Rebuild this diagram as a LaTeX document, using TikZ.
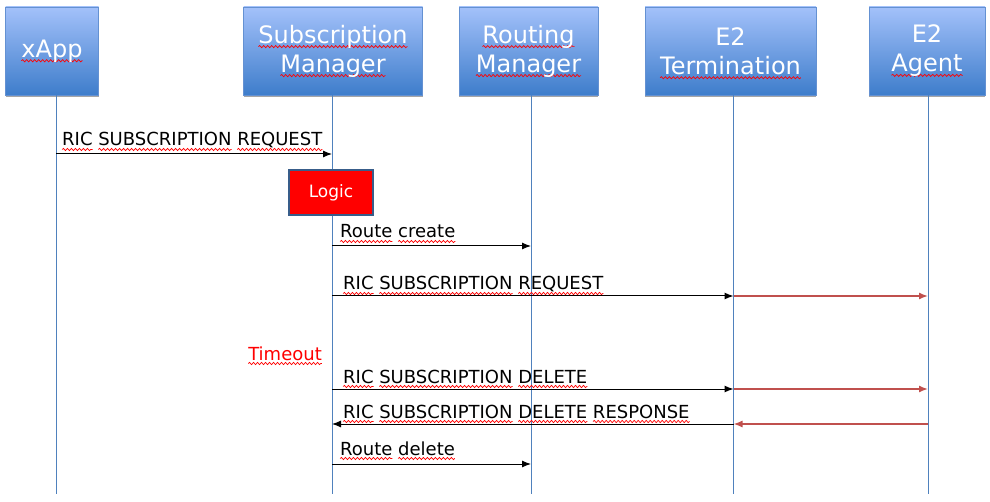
\documentclass[tikz,border=0pt]{standalone}
\usepackage{fontspec}
\setmainfont{DejaVu Sans}
\usetikzlibrary{arrows.meta,shadows,decorations.pathmorphing}
\definecolor{boxtop}{RGB}{163,193,250}
\definecolor{boxbot}{RGB}{62,125,203}
\definecolor{boxline}{RGB}{100,145,210}
\definecolor{lifeblue}{RGB}{79,129,189}
\definecolor{msgred}{RGB}{192,80,77}
\definecolor{logicline}{RGB}{56,93,138}
\newcommand\sq[1]{\setbox0\hbox{#1}\rlap{\tikz[overlay]\draw[red, line width=0.7pt,
  decorate, decoration={snake, amplitude=1.1pt, segment length=4pt}]
  (0pt,-3.5pt) -- (\wd0,-3.5pt);}\box0\relax}
\tikzset{
  actor/.style={draw=boxline, top color=boxtop, bottom color=boxbot, text=white,
    minimum width=#1, minimum height=88pt, align=center, inner sep=0pt,
    font=\fontsize{24}{29}\selectfont,
    drop shadow={shadow xshift=0pt, shadow yshift=-2.5pt, fill=black!35, opacity=1}},
  lifeline/.style={draw=lifeblue, line width=1pt},
  msg/.style={-{Latex[length=9pt,width=7pt]}, line width=1pt},
  redmsg/.style={-{Latex[length=9pt,width=7pt]}, draw=msgred, line width=1.4pt},
  lbl/.style={anchor=base west, inner sep=0pt, font=\fontsize{18}{21}\selectfont},
  logic/.style={draw=logicline, line width=2pt, fill=red, text=white,
    minimum width=84pt, minimum height=45pt, font=\fontsize{17}{20}\selectfont}
}
\begin{document}
\begin{tikzpicture}[x=1pt, y=-1pt]
\useasboundingbox (0,0) rectangle (990,502);
% participants
\node[actor=93pt] (xapp) at (52,51) {\raisebox{-2pt}{\sq{xApp}}};
\node[actor=179pt] (subm) at (333,51) {\sq{Subscription}\\\sq{Manager}};
\node[actor=139pt] (rtm) at (528.5,51) {\sq{Routing}\\\sq{Manager}};
\node[actor=171pt] (e2t) at (730.5,51) {E2\\\sq{Termination}};
\node[actor=116pt] (e2a) at (927,51) {E2\\\sq{Agent}};
\foreach \a/\dx in {xapp/4,subm/-1,rtm/2.5,e2t/3,e2a/1}{
  \coordinate (\a-top) at ([xshift=\dx pt]\a.south);
  \draw[lifeline] (\a-top) -- (\a-top |- 0,494) coordinate (\a-end);
}
% subscription request
\draw[msg] (xapp-top |- 0,154) -- (subm-top |- 0,154);
\node[lbl] (req1) at (62,146) {\sq{RIC} \sq{SUBSCRIPTION} \sq{REQUEST}};
\node[logic] (logic) at (331,192.5) {Logic};
\draw[msg] (subm-top |- 0,246) -- (rtm-top |- 0,246);
\node[lbl] (rcreate) at (340,238) {\sq{Route} \sq{create}};
\draw[msg] (subm-top |- 0,296) -- (e2t-top |- 0,296);
\draw[redmsg] (e2t-top |- 0,296) -- (e2a-top |- 0,296);
\node[lbl] (req2) at (343,290) {\sq{RIC} \sq{SUBSCRIPTION} \sq{REQUEST}};
% timeout and delete
\node[lbl, anchor=base east, text=red] (tmo) at (322,360) {\sq{Timeout}};
\draw[msg] (subm-top |- 0,389) -- (e2t-top |- 0,389);
\draw[redmsg] (e2t-top |- 0,389) -- (e2a-top |- 0,389);
\node[lbl] (del) at (343,383) {\sq{RIC} \sq{SUBSCRIPTION} \sq{DELETE}};
\draw[redmsg] (e2a-top |- 0,424) -- (e2t-top |- 0,424);
\draw[msg] (e2t-top |- 0,424) -- (subm-top |- 0,424);
\node[lbl] (delresp) at (343,418) {\sq{RIC} \sq{SUBSCRIPTION} \sq{DELETE} \sq{RESPONSE}};
\draw[msg] (subm-top |- 0,464) -- (rtm-top |- 0,464);
\node[lbl] (rdelete) at (340,455) {\sq{Route} \sq{delete}};
\end{tikzpicture}
\end{document}
